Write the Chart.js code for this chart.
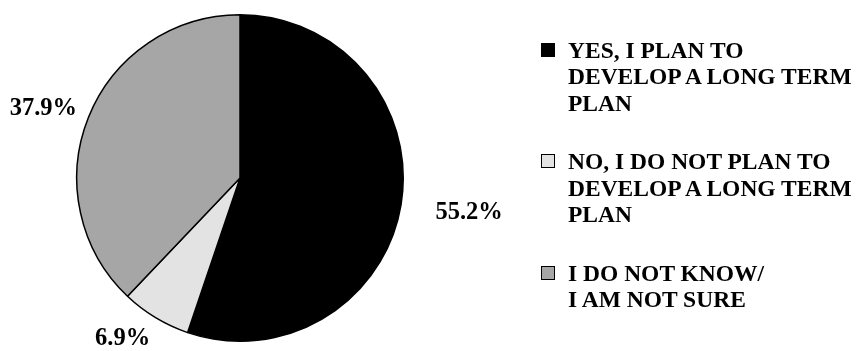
<!DOCTYPE html>
<html>
<head>
<meta charset="utf-8">
<script src="https://cdn.jsdelivr.net/npm/chart.js@4/dist/chart.umd.min.js"></script>
<style>
  html, body { margin: 0; padding: 0; background: #fff; }
  #wrap { position: relative; width: 858px; height: 351px; overflow: hidden; }
  #c { position: absolute; left: 0; top: 0; }
  #legend { position: absolute; left: 541px; top: 36.5px; font-family: "Liberation Serif", "Times New Roman", serif; font-weight: bold; font-size: 23.5px; line-height: 26.5px; color: #000; }
  .item { position: relative; padding-left: 27px; margin-bottom: 32px; white-space: nowrap; }
  .box { position: absolute; left: 0; top: 6px; width: 12px; height: 12px; border: 1px solid #000; }
</style>
</head>
<body>
<div id="wrap">
  <canvas id="c" width="858" height="351"></canvas>
  <div id="legend"></div>
</div>
<script>
const categories = [
  ["YES, I PLAN TO", "DEVELOP A LONG TERM", "PLAN"],
  ["NO, I DO NOT PLAN TO", "DEVELOP A LONG TERM", "PLAN"],
  ["I DO NOT KNOW/", "I AM NOT SURE"]
];
const values = [55.2, 6.9, 37.9];
const sliceColors = ["#000000", "#e3e3e3", "#a6a6a6"];

const labelOffsets = [[68, 8], [-33, 21], [-45, -9]];

const pctLabels = {
  id: 'pctLabels',
  afterDatasetsDraw(chart) {
    const ctx = chart.ctx;
    const meta = chart.getDatasetMeta(0);
    ctx.save();
    ctx.font = 'bold 24.5px "Liberation Serif", "Times New Roman", serif';
    ctx.fillStyle = '#000';
    ctx.textAlign = 'center';
    ctx.textBaseline = 'middle';
    meta.data.forEach((arc, i) => {
      const p = arc.getProps(['x', 'y', 'startAngle', 'endAngle', 'outerRadius'], true);
      const mid = (p.startAngle + p.endAngle) / 2;
      const ox = p.x + p.outerRadius * Math.cos(mid);
      const oy = p.y + p.outerRadius * Math.sin(mid);
      const off = labelOffsets[i];
      ctx.fillText(values[i].toFixed(1) + '%', ox + off[0], oy + off[1]);
    });
    ctx.restore();
  }
};

const chart = new Chart(document.getElementById('c'), {
  type: 'pie',
  data: {
    labels: categories.map(l => l.join(' ')),
    datasets: [{
      data: values,
      backgroundColor: sliceColors,
      borderColor: '#000',
      borderWidth: 1.5,
      hoverOffset: 0
    }]
  },
  options: {
    responsive: false,
    animation: false,
    layout: { padding: { left: 76, right: 454, top: 14, bottom: 9 } },
    plugins: {
      legend: { display: false },
      tooltip: { enabled: false }
    }
  },
  plugins: [pctLabels]
});

const legendEl = document.getElementById('legend');
categories.forEach((lines, i) => {
  const item = document.createElement('div');
  item.className = 'item';
  const box = document.createElement('span');
  box.className = 'box';
  box.style.background = sliceColors[i];
  item.appendChild(box);
  lines.forEach((t) => {
    const d = document.createElement('div');
    d.textContent = t;
    item.appendChild(d);
  });
  legendEl.appendChild(item);
});
</script>
</body>
</html>
